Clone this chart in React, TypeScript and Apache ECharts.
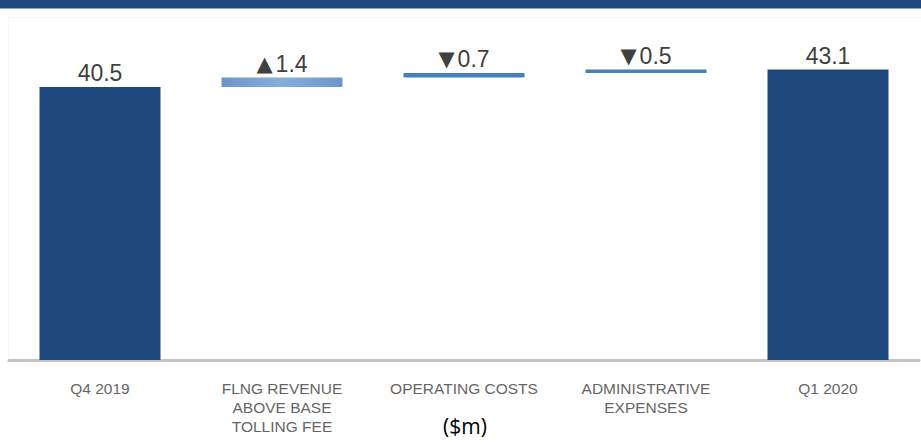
import React, { useEffect, useRef } from "react";
import * as echarts from "echarts";

const categories = [
  "Q4 2019",
  "FLNG REVENUE\nABOVE BASE\nTOLLING FEE",
  "OPERATING COSTS",
  "ADMINISTRATIVE\nEXPENSES",
  "Q1 2020",
];
const startValue = 40.5;
const endValue = 43.1;
const deltas = [1.4, 0.7, 0.5];
const arrows = ["▲", "▼", "▼"];
const unitLabel = "($m)";

export default function App() {
  const ref = useRef<HTMLDivElement>(null);
  useEffect(() => {
    document.body.style.margin = "0";
    if (!ref.current) return;
    const chart = echarts.init(ref.current, undefined, { renderer: "svg" });

    const bases: number[] = [0];
    const heights: number[] = [startValue];
    let run = startValue;
    deltas.forEach((d) => {
      bases.push(run);
      heights.push(d);
      run += d;
    });
    bases.push(0);
    heights.push(endValue);

    const labels = [
      "{v|" + startValue.toFixed(1) + "}",
      ...deltas.map((d, i) => "{a|" + arrows[i] + "}{v|" + d.toFixed(1) + "}"),
      "{v|" + endValue.toFixed(1) + "}",
    ];

    const dark = "#1f497d";
    const mid = "#4a7ebb";
    const light = {
      type: "linear",
      x: 0,
      y: 0,
      x2: 1,
      y2: 0,
      colorStops: [
        { offset: 0, color: "#6b95ca" },
        { offset: 0.5, color: "#88aedb" },
        { offset: 1, color: "#6b95ca" },
      ],
    };
    const colors = [dark, light, mid, mid, dark];

    chart.setOption({
      animation: false,
      grid: { left: 9, width: 910, top: 23, height: 337 },
      xAxis: {
        type: "category",
        data: categories,
        axisLine: { show: true, lineStyle: { color: "#c3c3c3", width: 3 } },
        axisTick: { show: false },
        axisLabel: {
          color: "#666666",
          fontFamily: "Liberation Sans",
          fontSize: 15.5,
          lineHeight: 19,
          margin: 19,
          interval: 0,
          verticalAlign: "top",
        },
      },
      yAxis: {
        type: "value",
        min: 0,
        max: 50,
        show: false,
        splitLine: { show: false },
      },
      graphic: [
        {
          type: "rect",
          shape: { x: 0, y: 0, width: 921, height: 8.5 },
          style: { fill: dark },
          z: 10,
        },
        {
          type: "rect",
          shape: { x: 8.5, y: 17.5, width: 913, height: 342 },
          style: { fill: "none", stroke: "#f7f7f7", lineWidth: 1 },
          z: -1,
        },
        {
          type: "text",
          x: 465,
          y: 426,
          style: {
            text: unitLabel,
            fill: "#000",
            font: "21px 'Open Sans'",
            align: "center",
            verticalAlign: "middle",
          },
        },
      ],
      series: [
        {
          type: "bar",
          stack: "w",
          data: bases,
          barWidth: 121,
          itemStyle: { color: "transparent" },
          silent: true,
        },
        {
          type: "bar",
          stack: "w",
          barWidth: 121,
          data: heights.map((v, i) => ({
            value: v,
            itemStyle: { color: colors[i] },
          })),
          label: {
            show: true,
            position: "top",
            distance: 1,
            formatter: (p: any) => labels[p.dataIndex],
            rich: {
              v: {
                color: "#404040",
                fontFamily: "Liberation Sans",
                fontSize: 23,
                lineHeight: 26,
              },
              a: {
                color: "#404040",
                fontFamily: "DejaVu Sans",
                fontSize: 21,
                lineHeight: 26,
                padding: [0, 3, 0, 0],
              },
            },
          },
        },
      ],
    } as any);
    return () => chart.dispose();
  }, []);
  return <div ref={ref} style={{ width: 921, height: 444 }} />;
}
